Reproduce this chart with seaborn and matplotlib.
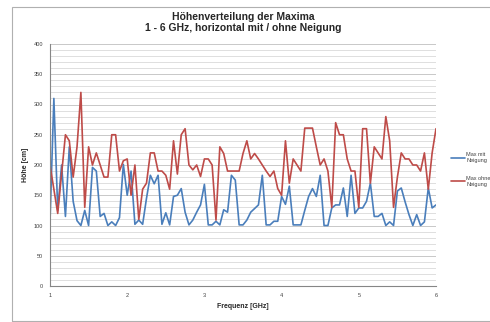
import numpy as np
import pandas as pd
import matplotlib
matplotlib.use("Agg")
import matplotlib.pyplot as plt
import seaborn as sns
from matplotlib.patches import Rectangle
from matplotlib.ticker import MultipleLocator

# Frequenz-Raster 1 - 6 GHz in 0.05 GHz Schritten
freq = [round(1.0 + 0.05 * i, 2) for i in range(101)]

max_mit = [106, 310, 125, 200, 115, 230, 140, 108, 100, 125,
           100, 196, 190, 115, 120, 100, 106, 100, 113, 201,
           150, 190, 102, 109, 102, 145, 183, 169, 183, 102,
           121, 101, 148, 150, 161, 122, 101, 109, 122, 134,
           168, 101, 101, 107, 101, 126, 122, 183, 175, 101,
           101, 109, 122, 128, 134, 183, 101, 101, 107, 107,
           148, 135, 165, 101, 101, 101, 125, 148, 161, 148,
           183, 100, 100, 129, 134, 134, 162, 115, 183, 120,
           129, 129, 140, 170, 115, 115, 120, 100, 106, 100,
           157, 162, 139, 118, 100, 118, 100, 106, 162, 129,
           134]

max_ohne = [200, 160, 120, 185, 250, 240, 180, 230, 320, 130,
            230, 200, 220, 200, 180, 180, 250, 250, 190, 207,
            210, 150, 200, 110, 160, 170, 220, 220, 190, 190,
            183, 160, 240, 185, 250, 260, 200, 192, 200, 181,
            210, 210, 200, 109, 230, 219, 190, 190, 190, 190,
            219, 240, 210, 219, 210, 200, 190, 181, 190, 161,
            150, 240, 170, 210, 200, 190, 261, 261, 261, 230,
            200, 210, 190, 130, 270, 250, 250, 210, 190, 190,
            130, 260, 260, 170, 230, 220, 210, 280, 240, 130,
            180, 220, 210, 210, 200, 200, 190, 220, 160, 220,
            260]

series_names = ["Max mit\nNeigung", "Max ohne\nNeigung"]
colors = ["#4A7EBB", "#BE4B48"]

df = pd.DataFrame({
    "freq": freq * 2,
    "hoehe": max_mit + max_ohne,
    "serie": [series_names[0]] * len(freq) + [series_names[1]] * len(freq),
})

sns.set_style("white")
plt.rcParams["font.family"] = ["Liberation Sans", "DejaVu Sans"]

fig = plt.figure(figsize=(4.9, 3.22), dpi=100)
ax = fig.add_axes([50 / 490, 1 - 286 / 322, 386 / 490, 242 / 322])

# Rahmen um das Diagramm
fig.patches.append(Rectangle((12 / 490, 1 / 322), 1.0, 314 / 322, transform=fig.transFigure,
                             fill=False, edgecolor="#b0b0b0", linewidth=0.8))

sns.lineplot(data=df, x="freq", y="hoehe", hue="serie", palette=colors,
             linewidth=1.2, ax=ax, legend=False)

ax.set_xlim(1, 6)
ax.set_ylim(0, 400)
ax.xaxis.set_major_locator(MultipleLocator(1))
ax.yaxis.set_major_locator(MultipleLocator(50))
ax.yaxis.set_minor_locator(MultipleLocator(10))
ax.grid(which="major", axis="y", color="#c8c8c8", linewidth=0.7)
ax.grid(which="minor", axis="y", color="#dedede", linewidth=0.7)
ax.grid(False, axis="x")
ax.set_axisbelow(True)

for s in ["top", "right"]:
    ax.spines[s].set_visible(False)
for s in ["left", "bottom"]:
    ax.spines[s].set_color("#868686")
    ax.spines[s].set_linewidth(0.8)

ax.tick_params(axis="both", which="major", labelsize=4, colors="#404040",
               length=3, width=0.6, direction="out", pad=2)
ax.tick_params(axis="y", which="minor", length=0)
ax.tick_params(axis="both", colors="#868686", labelcolor="#404040")

ax.set_xlabel("Frequenz [GHz]", fontsize=5, fontweight="bold", labelpad=4)
ax.set_ylabel("Höhe [cm]", fontsize=5, fontweight="bold", labelpad=3)

fig.text(243 / 490, 1 - 22.5 / 322,
         "Höhenverteilung der Maxima\n1 - 6 GHz, horizontal mit / ohne Neigung",
         ha="center", va="center", fontsize=7.5, fontweight="bold", linespacing=1.15)

handles = [plt.Line2D([], [], color=c, linewidth=1.2) for c in colors]
fig.legend(handles, series_names, loc="upper left", bbox_to_anchor=(449 / 490, 1 - 150 / 322),
           frameon=False, fontsize=4, handlelength=2.4, handletextpad=0.3,
           labelspacing=2.3, borderaxespad=0, labelcolor="#404040")

fig.savefig("out.png", dpi=100)
